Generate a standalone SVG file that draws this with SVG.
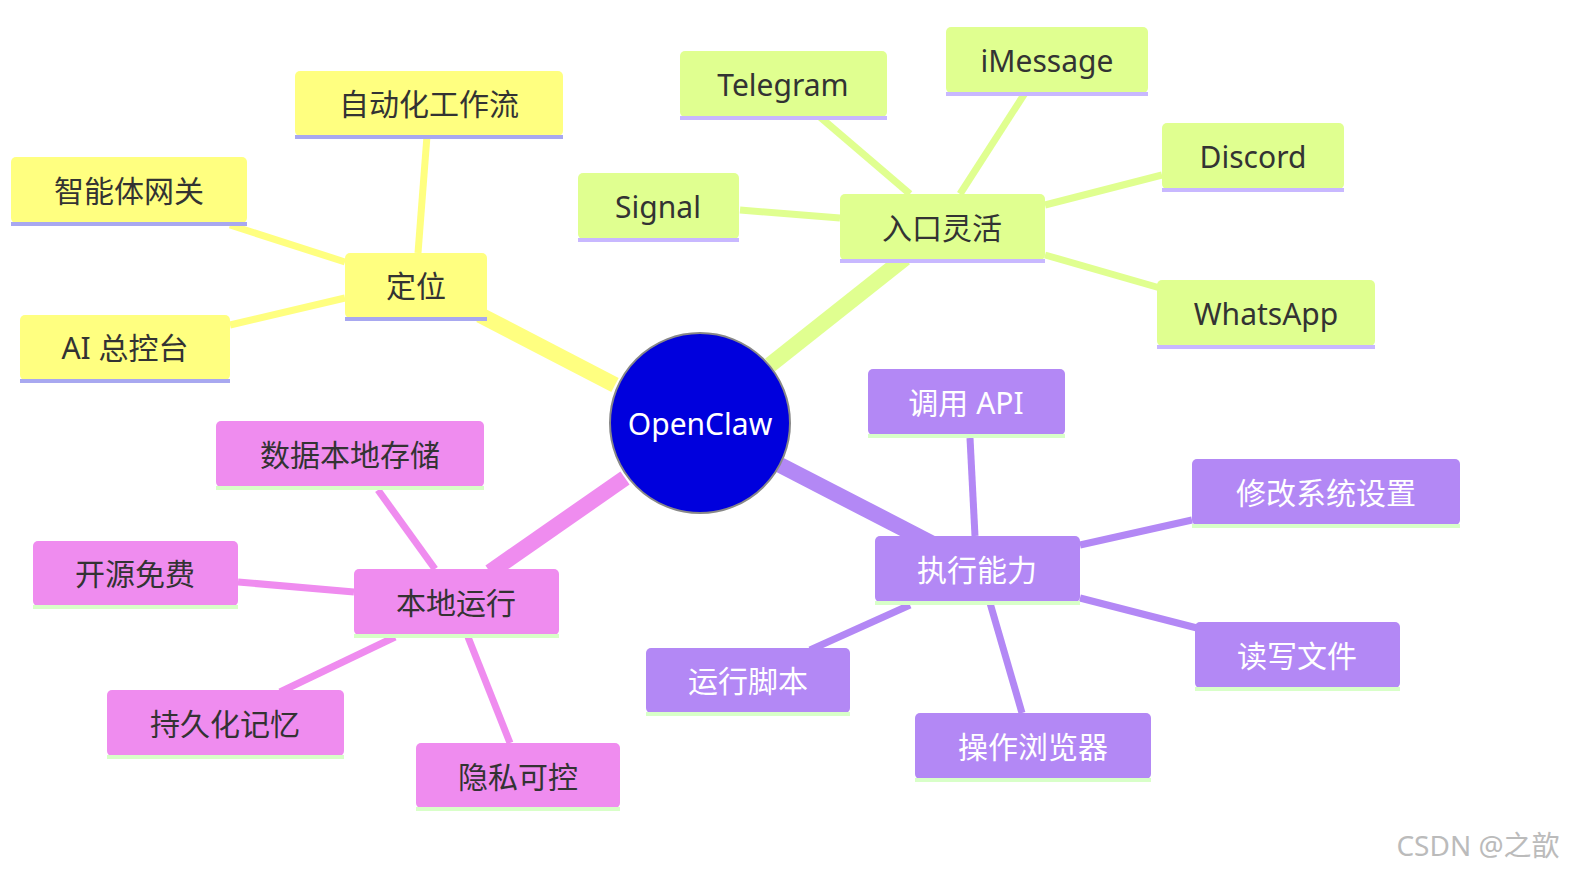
<svg xmlns="http://www.w3.org/2000/svg" width="1584" height="880" viewBox="0 0 1584 880">
<style>
text{font-family:"Noto Sans","Noto Sans CJK SC",sans-serif;font-size:30px;text-anchor:middle;dominant-baseline:central;fill:#333}
.y{fill:#ffff80}.g{fill:#e0ff90}.p{fill:#b388f5}.k{fill:#ef8cef}
.uy{stroke:#a8a8f0;stroke-width:4}.ug{stroke:#c8b8ff;stroke-width:4}.up{stroke:#d8ffc8;stroke-width:4}
.w{fill:#fff}
.ey{stroke:#ffff80}.eg{stroke:#e0ff90}.ep{stroke:#b388f5}.ek{stroke:#ef8cef}
</style>
<rect width="1584" height="880" fill="#fff"/>
<g id="connectors" fill="none" stroke-linecap="butt">
<g stroke-width="16">
<line class="ey" x1="615" y1="385" x2="480" y2="315"/>
<line class="eg" x1="770" y1="365" x2="905" y2="258"/>
<line class="ep" x1="780" y1="465" x2="935" y2="545"/>
<line class="ek" x1="625" y1="478" x2="490" y2="572"/>
</g>
<g stroke-width="7">
<line class="ey" x1="418" y1="253" x2="427" y2="136"/>
<line class="ey" x1="345" y1="262" x2="230" y2="225"/>
<line class="ey" x1="345" y1="298" x2="230" y2="325"/>
<line class="eg" x1="910" y1="194" x2="820" y2="117"/>
<line class="eg" x1="960" y1="194" x2="1025" y2="93"/>
<line class="eg" x1="1045" y1="205" x2="1162" y2="175"/>
<line class="eg" x1="740" y1="210" x2="840" y2="218"/>
<line class="eg" x1="1045" y1="255" x2="1160" y2="288"/>
<line class="ep" x1="970" y1="438" x2="975" y2="536"/>
<line class="ep" x1="1080" y1="545" x2="1192" y2="520"/>
<line class="ep" x1="1080" y1="598" x2="1197" y2="628"/>
<line class="ep" x1="990" y1="603" x2="1022" y2="713"/>
<line class="ep" x1="910" y1="605" x2="810" y2="650"/>
<line class="ek" x1="435" y1="569" x2="378" y2="490"/>
<line class="ek" x1="354" y1="592" x2="238" y2="582"/>
<line class="ek" x1="395" y1="637" x2="280" y2="692"/>
<line class="ek" x1="468" y1="637" x2="510" y2="743"/>
</g>
</g>
<g id="root"><circle cx="700" cy="423" r="90" fill="#0000dd" stroke="#888" stroke-width="2"/><text class="w" x="700" y="423">OpenClaw</text></g>
<g id="n-dingwei"><rect class="y" x="345" y="253" width="142" height="65" rx="5"/><line class="uy" x1="345" y1="319" x2="487" y2="319"/><text x="416" y="285">定位</text></g>
<g id="n-zdh"><rect class="y" x="295" y="71" width="268" height="65" rx="5"/><line class="uy" x1="295" y1="137" x2="563" y2="137"/><text x="429" y="103">自动化工作流</text></g>
<g id="n-zntwg"><rect class="y" x="11" y="157" width="236" height="66" rx="5"/><line class="uy" x1="11" y1="224" x2="247" y2="224"/><text x="129" y="190">智能体网关</text></g>
<g id="n-ai"><rect class="y" x="20" y="315" width="210" height="65" rx="5"/><line class="uy" x1="20" y1="381" x2="230" y2="381"/><text x="125" y="347">AI 总控台</text></g>
<g id="n-rukou"><rect class="g" x="840" y="194" width="205" height="66" rx="5"/><line class="ug" x1="840" y1="261" x2="1045" y2="261"/><text x="942" y="227">入口灵活</text></g>
<g id="n-tg"><rect class="g" x="680" y="51" width="207" height="66" rx="5"/><line class="ug" x1="680" y1="118" x2="887" y2="118"/><text x="783" y="84">Telegram</text></g>
<g id="n-im"><rect class="g" x="946" y="27" width="202" height="66" rx="5"/><line class="ug" x1="946" y1="94" x2="1148" y2="94"/><text x="1047" y="60">iMessage</text></g>
<g id="n-dc"><rect class="g" x="1162" y="123" width="182" height="66" rx="5"/><line class="ug" x1="1162" y1="190" x2="1344" y2="190"/><text x="1253" y="156">Discord</text></g>
<g id="n-sig"><rect class="g" x="578" y="173" width="161" height="66" rx="5"/><line class="ug" x1="578" y1="240" x2="739" y2="240"/><text x="658" y="206">Signal</text></g>
<g id="n-wa"><rect class="g" x="1157" y="280" width="218" height="66" rx="5"/><line class="ug" x1="1157" y1="347" x2="1375" y2="347"/><text x="1266" y="313">WhatsApp</text></g>
<g id="n-zx"><rect class="p" x="875" y="536" width="205" height="66" rx="5"/><line class="up" x1="875" y1="603" x2="1080" y2="603"/><text class="w" x="977" y="569">执行能力</text></g>
<g id="n-api"><rect class="p" x="868" y="369" width="197" height="66" rx="5"/><line class="up" x1="868" y1="436" x2="1065" y2="436"/><text class="w" x="966" y="402">调用 API</text></g>
<g id="n-xg"><rect class="p" x="1192" y="459" width="268" height="66" rx="5"/><line class="up" x1="1192" y1="526" x2="1460" y2="526"/><text class="w" x="1326" y="492">修改系统设置</text></g>
<g id="n-dx"><rect class="p" x="1195" y="622" width="205" height="66" rx="5"/><line class="up" x1="1195" y1="689" x2="1400" y2="689"/><text class="w" x="1297" y="655">读写文件</text></g>
<g id="n-cz"><rect class="p" x="915" y="713" width="236" height="66" rx="5"/><line class="up" x1="915" y1="780" x2="1151" y2="780"/><text class="w" x="1033" y="746">操作浏览器</text></g>
<g id="n-yx"><rect class="p" x="646" y="648" width="204" height="65" rx="5"/><line class="up" x1="646" y1="714" x2="850" y2="714"/><text class="w" x="748" y="680">运行脚本</text></g>
<g id="n-bd"><rect class="k" x="354" y="569" width="205" height="66" rx="5"/><line class="up" x1="354" y1="636" x2="559" y2="636"/><text x="456" y="602">本地运行</text></g>
<g id="n-sj"><rect class="k" x="216" y="421" width="268" height="66" rx="5"/><line class="up" x1="216" y1="488" x2="484" y2="488"/><text x="350" y="454">数据本地存储</text></g>
<g id="n-ky"><rect class="k" x="33" y="541" width="205" height="65" rx="5"/><line class="up" x1="33" y1="607" x2="238" y2="607"/><text x="135" y="573">开源免费</text></g>
<g id="n-cj"><rect class="k" x="107" y="690" width="237" height="66" rx="5"/><line class="up" x1="107" y1="757" x2="344" y2="757"/><text x="225" y="723">持久化记忆</text></g>
<g id="n-ys"><rect class="k" x="416" y="743" width="204" height="65" rx="5"/><line class="up" x1="416" y1="809" x2="620" y2="809"/><text x="518" y="776">隐私可控</text></g>
<text x="1478" y="845" style="font-size:28px;fill:#bbb">CSDN @之歆</text>
</svg>
